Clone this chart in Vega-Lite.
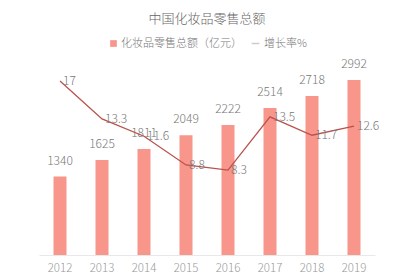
{
  "$schema": "https://vega.github.io/schema/vega-lite/v6.json",
  "width": 336,
  "height": 200,
  "autosize": {"type": "none"},
  "padding": {"left": 39, "top": 55, "right": 25, "bottom": 23},
  "background": "white",
  "title": {
    "text": "中国化妆品零售总额",
    "font": "Noto Sans CJK SC",
    "fontSize": 13,
    "fontWeight": 300,
    "color": "#666666",
    "anchor": "middle",
    "offset": 12
  },
  "config": {
    "view": {"stroke": null},
    "font": "Noto Sans CJK SC",
    "text": {"fontWeight": 300},
    "axis": {"labelFontWeight": 300},
    "legend": {"labelFontWeight": 300}
  },
  "data": {
    "values": [
      {"year": "2012", "sales": 1340, "rate": 17},
      {"year": "2013", "sales": 1625, "rate": 13.3},
      {"year": "2014", "sales": 1811, "rate": 11.6},
      {"year": "2015", "sales": 2049, "rate": 8.8},
      {"year": "2016", "sales": 2222, "rate": 8.3},
      {"year": "2017", "sales": 2514, "rate": 13.5},
      {"year": "2018", "sales": 2718, "rate": 11.7},
      {"year": "2019", "sales": 2992, "rate": 12.6}
    ]
  },
  "encoding": {
    "x": {
      "field": "year",
      "type": "nominal",
      "scale": {"paddingInner": 0, "paddingOuter": 0},
      "axis": {
        "title": null,
        "labelAngle": 0,
        "ticks": false,
        "domainColor": "#e8e8e8",
        "labelColor": "#999999",
        "labelFontSize": 11.5,
        "labelPadding": 7,
        "grid": false
      }
    }
  },
  "layer": [
    {
      "layer": [
        {
          "mark": {"type": "bar", "size": 13},
          "encoding": {
            "y": {"field": "sales", "type": "quantitative", "scale": {"domain": [0, 3419]}, "axis": null},
            "fill": {
              "datum": "化妆品零售总额（亿元）",
              "scale": {"range": ["#f9968c"]},
              "legend": {
                "title": null,
                "orient": "none",
                "legendX": 69,
                "legendY": -17,
                "symbolType": "square",
                "symbolSize": 45,
                "labelFontSize": 11,
                "labelColor": "#777777",
                "labelOffset": 2
              }
            }
          }
        },
        {
          "mark": {"type": "text", "dy": -9, "fontSize": 12, "color": "#777777", "baseline": "bottom"},
          "encoding": {
            "y": {"field": "sales", "type": "quantitative", "scale": {"domain": [0, 3419]}, "axis": null},
            "text": {"field": "sales", "type": "quantitative"}
          }
        }
      ]
    },
    {
      "layer": [
        {
          "mark": {"type": "line", "strokeWidth": 1.3, "color": "#b9524c"},
          "encoding": {
            "y": {"field": "rate", "type": "quantitative", "scale": {"domain": [0, 19.54]}, "axis": null}
          }
        },
        {
          "transform": [{"filter": "false"}],
          "mark": {"type": "line", "strokeWidth": 1.5},
          "encoding": {
            "y": {"field": "rate", "type": "quantitative", "scale": {"domain": [0, 19.54]}, "axis": null},
            "stroke": {
              "datum": "增长率%",
              "scale": {"range": ["#cccccc"]},
              "legend": {
                "title": null,
                "orient": "none",
                "legendX": 211,
                "legendY": -17,
                "symbolType": "stroke",
                "symbolSize": 60,
                "symbolStrokeWidth": 1.5,
                "labelFontSize": 11,
                "labelColor": "#777777",
                "labelOffset": 3
              }
            }
          }
        },
        {
          "mark": {"type": "text", "dx": 3, "dy": 0, "align": "left", "baseline": "middle", "fontSize": 12, "color": "#777777"},
          "encoding": {
            "y": {"field": "rate", "type": "quantitative", "scale": {"domain": [0, 19.54]}, "axis": null},
            "text": {"field": "rate", "type": "quantitative"}
          }
        }
      ]
    }
  ],
  "resolve": {"scale": {"y": "independent", "fill": "independent", "stroke": "independent"}}
}
